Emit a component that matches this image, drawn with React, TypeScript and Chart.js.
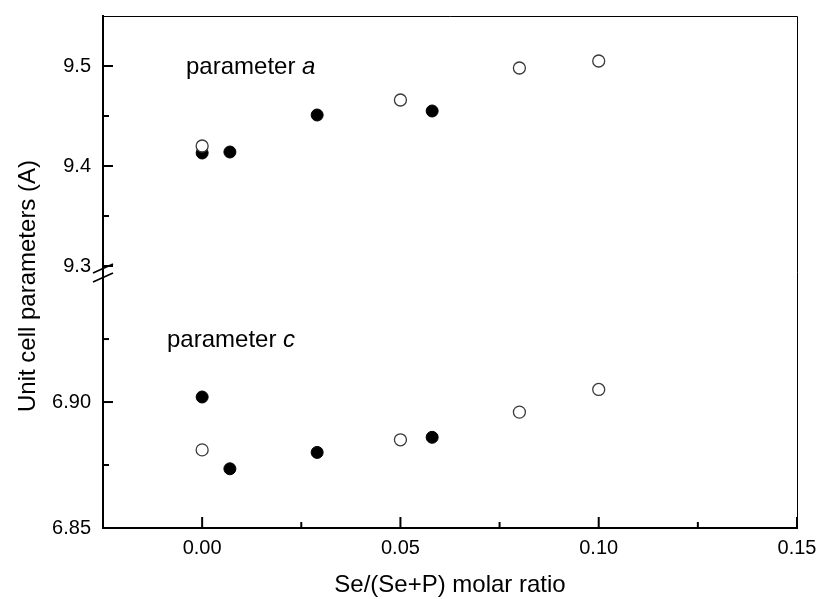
import React, { useEffect, useRef } from 'react';
import { Chart, registerables } from 'chart.js';

Chart.register(...registerables);

// ---- data ----
const xFilled = [0, 0.007, 0.029, 0.058];
const aFilled = [9.413, 9.414, 9.451, 9.455];
const cFilled = [6.902, 6.8735, 6.88, 6.886];

const xOpen = [0, 0.05, 0.08, 0.1];
const aOpen = [9.42, 9.466, 9.498, 9.505];
const cOpen = [6.881, 6.885, 6.896, 6.905];

// ---- ticks ----
const xTicks = [0, 0.025, 0.05, 0.075, 0.1, 0.125, 0.15];
const xLabels = ['0.00', '', '0.05', '', '0.10', '', '0.15'];
const topTicks = [9.3, 9.35, 9.4, 9.45, 9.5];
const topLabels = ['9.3', '', '9.4', '', '9.5'];
const bottomTicks = [6.85, 6.875, 6.9, 6.925];
const bottomLabels = ['6.85', '', '6.90', ''];

const xTitle = 'Se/(Se+P) molar ratio';
const yTitle = 'Unit cell parameters (A)';
const labelA = ['parameter ', 'a'];
const labelC = ['parameter ', 'c'];

const FONT = '"Liberation Sans", Arial, sans-serif';

const toPts = (xs: number[], ys: number[]) => xs.map((x, i) => ({ x, y: ys[i] }));

const zeroPad = (s: any) => {
  s.paddingTop = 0;
  s.paddingBottom = 0;
  s.paddingLeft = 0;
  s.paddingRight = 0;
};

const decor = {
  id: 'decor',
  afterDraw(chart: any) {
    const { ctx, chartArea, scales } = chart;
    const { left, right, top, bottom } = chartArea;
    const xs = scales.x;
    const yt = scales.yTop;
    const yb = scales.yBottom;
    ctx.save();
    ctx.strokeStyle = '#000';
    ctx.lineCap = 'butt';
    // top & right frame
    ctx.lineWidth = 1;
    ctx.beginPath();
    ctx.moveTo(left, top + 0.5);
    ctx.lineTo(right + 0.5, top + 0.5);
    ctx.lineTo(right + 0.5, bottom);
    ctx.stroke();

    // inward ticks
    ctx.lineWidth = 2;
    xTicks.forEach((v, i) => {
      const px = xs.getPixelForValue(v);
      const len = xLabels[i] ? 11 : 6;
      ctx.beginPath();
      ctx.moveTo(px, bottom);
      ctx.lineTo(px, bottom - len);
      ctx.stroke();
    });
    const yTicksDraw = (scale: any, ticks: number[], labels: string[]) => {
      ticks.forEach((v, i) => {
        const py = scale.getPixelForValue(v);
        const len = labels[i] ? 10 : 6;
        ctx.beginPath();
        ctx.moveTo(left, py);
        ctx.lineTo(left + len, py);
        ctx.stroke();
      });
    };
    yTicksDraw(yt, topTicks, topLabels);
    yTicksDraw(yb, bottomTicks, bottomLabels);

    // axis break marks
    const bk = yt.bottom;
    ctx.lineWidth = 1.6;
    ctx.beginPath();
    ctx.moveTo(left - 10, bk + 7);
    ctx.lineTo(left + 10, bk - 2);
    ctx.moveTo(left - 10, bk + 16);
    ctx.lineTo(left + 10, bk + 7);
    ctx.stroke();

    // annotations
    ctx.fillStyle = '#000';
    ctx.textBaseline = 'alphabetic';
    ctx.textAlign = 'left';
    const drawLabel = (parts: string[], x: number, y: number) => {
      ctx.font = `24px ${FONT}`;
      ctx.fillText(parts[0], x, y);
      const w = ctx.measureText(parts[0]).width;
      ctx.font = `italic 24px ${FONT}`;
      ctx.fillText(parts[1], x + w, y);
    };
    drawLabel(labelA, left + 83, top + 57.5);
    drawLabel(labelC, left + 64, top + 331);

    // axis titles
    ctx.font = `24px ${FONT}`;
    ctx.textAlign = 'center';
    ctx.fillText(xTitle, (left + right) / 2, 592);
    ctx.save();
    ctx.translate(35, 286);
    ctx.rotate(-Math.PI / 2);
    ctx.fillText(yTitle, 0, 0);
    ctx.restore();

    ctx.restore();
  },
};

export default function App() {
  const ref = useRef<HTMLCanvasElement>(null);
  useEffect(() => {
    document.body.style.margin = '0';
    const canvas = ref.current!;
    const tickFont = { family: FONT, size: 20 };
    const yCommon = (min: number, max: number, ticks: number[], labels: string[], weight: number) => ({
      type: 'linear' as const,
      position: 'left' as const,
      stack: 'y',
      stackWeight: weight,
      min,
      max,
      grid: { display: false, drawTicks: false },
      border: { display: true, color: '#000', width: 2 },
      ticks: {
        autoSkip: false,
        padding: 12,
        color: '#000',
        font: tickFont,
        callback: (_v: any, i: number) => labels[i] ?? '',
      },
      afterBuildTicks: (s: any) => {
        s.ticks = ticks.map((v) => ({ value: v }));
      },
      afterFit: (s: any) => {
        s.width = 103;
        zeroPad(s);
      },
    });
    const chart = new Chart(canvas, {
      type: 'scatter',
      data: {
        datasets: [
          {
            label: 'a open',
            data: toPts(xOpen, aOpen),
            yAxisID: 'yTop',
            pointRadius: 6,
            pointBackgroundColor: '#fff',
            pointBorderColor: '#3a3a3a',
            pointBorderWidth: 1.3,
          },
          {
            label: 'c open',
            data: toPts(xOpen, cOpen),
            yAxisID: 'yBottom',
            pointRadius: 6,
            pointBackgroundColor: '#fff',
            pointBorderColor: '#3a3a3a',
            pointBorderWidth: 1.3,
          },
          {
            label: 'a filled',
            data: toPts(xFilled, aFilled),
            yAxisID: 'yTop',
            pointRadius: 6,
            pointBackgroundColor: '#000',
            pointBorderColor: '#000',
            pointBorderWidth: 1,
          },
          {
            label: 'c filled',
            data: toPts(xFilled, cFilled),
            yAxisID: 'yBottom',
            pointRadius: 6,
            pointBackgroundColor: '#000',
            pointBorderColor: '#000',
            pointBorderWidth: 1,
          },
        ],
      },
      options: {
        animation: false,
        responsive: false,
        devicePixelRatio: 1,
        layout: { padding: { top: 16, right: 21, left: 0, bottom: 0 } },
        plugins: { legend: { display: false }, tooltip: { enabled: false } },
        scales: {
          x: {
            type: 'linear',
            position: 'bottom',
            min: -0.025,
            max: 0.15,
            grid: { display: false, drawTicks: false },
            border: { display: true, color: '#000', width: 2 },
            ticks: {
              autoSkip: false,
              maxRotation: 0,
              padding: 8,
              color: '#000',
              font: tickFont,
              callback: (_v: any, i: number) => xLabels[i] ?? '',
            },
            afterBuildTicks: (s: any) => {
              s.ticks = xTicks.map((v) => ({ value: v }));
            },
            afterFit: (s: any) => {
              s.height = 71;
              zeroPad(s);
            },
          },
          yBottom: yCommon(6.85, 6.954, bottomTicks, bottomLabels, 262),
          yTop: yCommon(9.3, 9.55, topTicks, topLabels, 250),
        } as any,
      },
      plugins: [decor],
    });
    return () => chart.destroy();
  }, []);
  return (
    <div style={{ width: 818, height: 599 }}>
      <canvas ref={ref} width={818} height={599} style={{ display: 'block' }} />
    </div>
  );
}
